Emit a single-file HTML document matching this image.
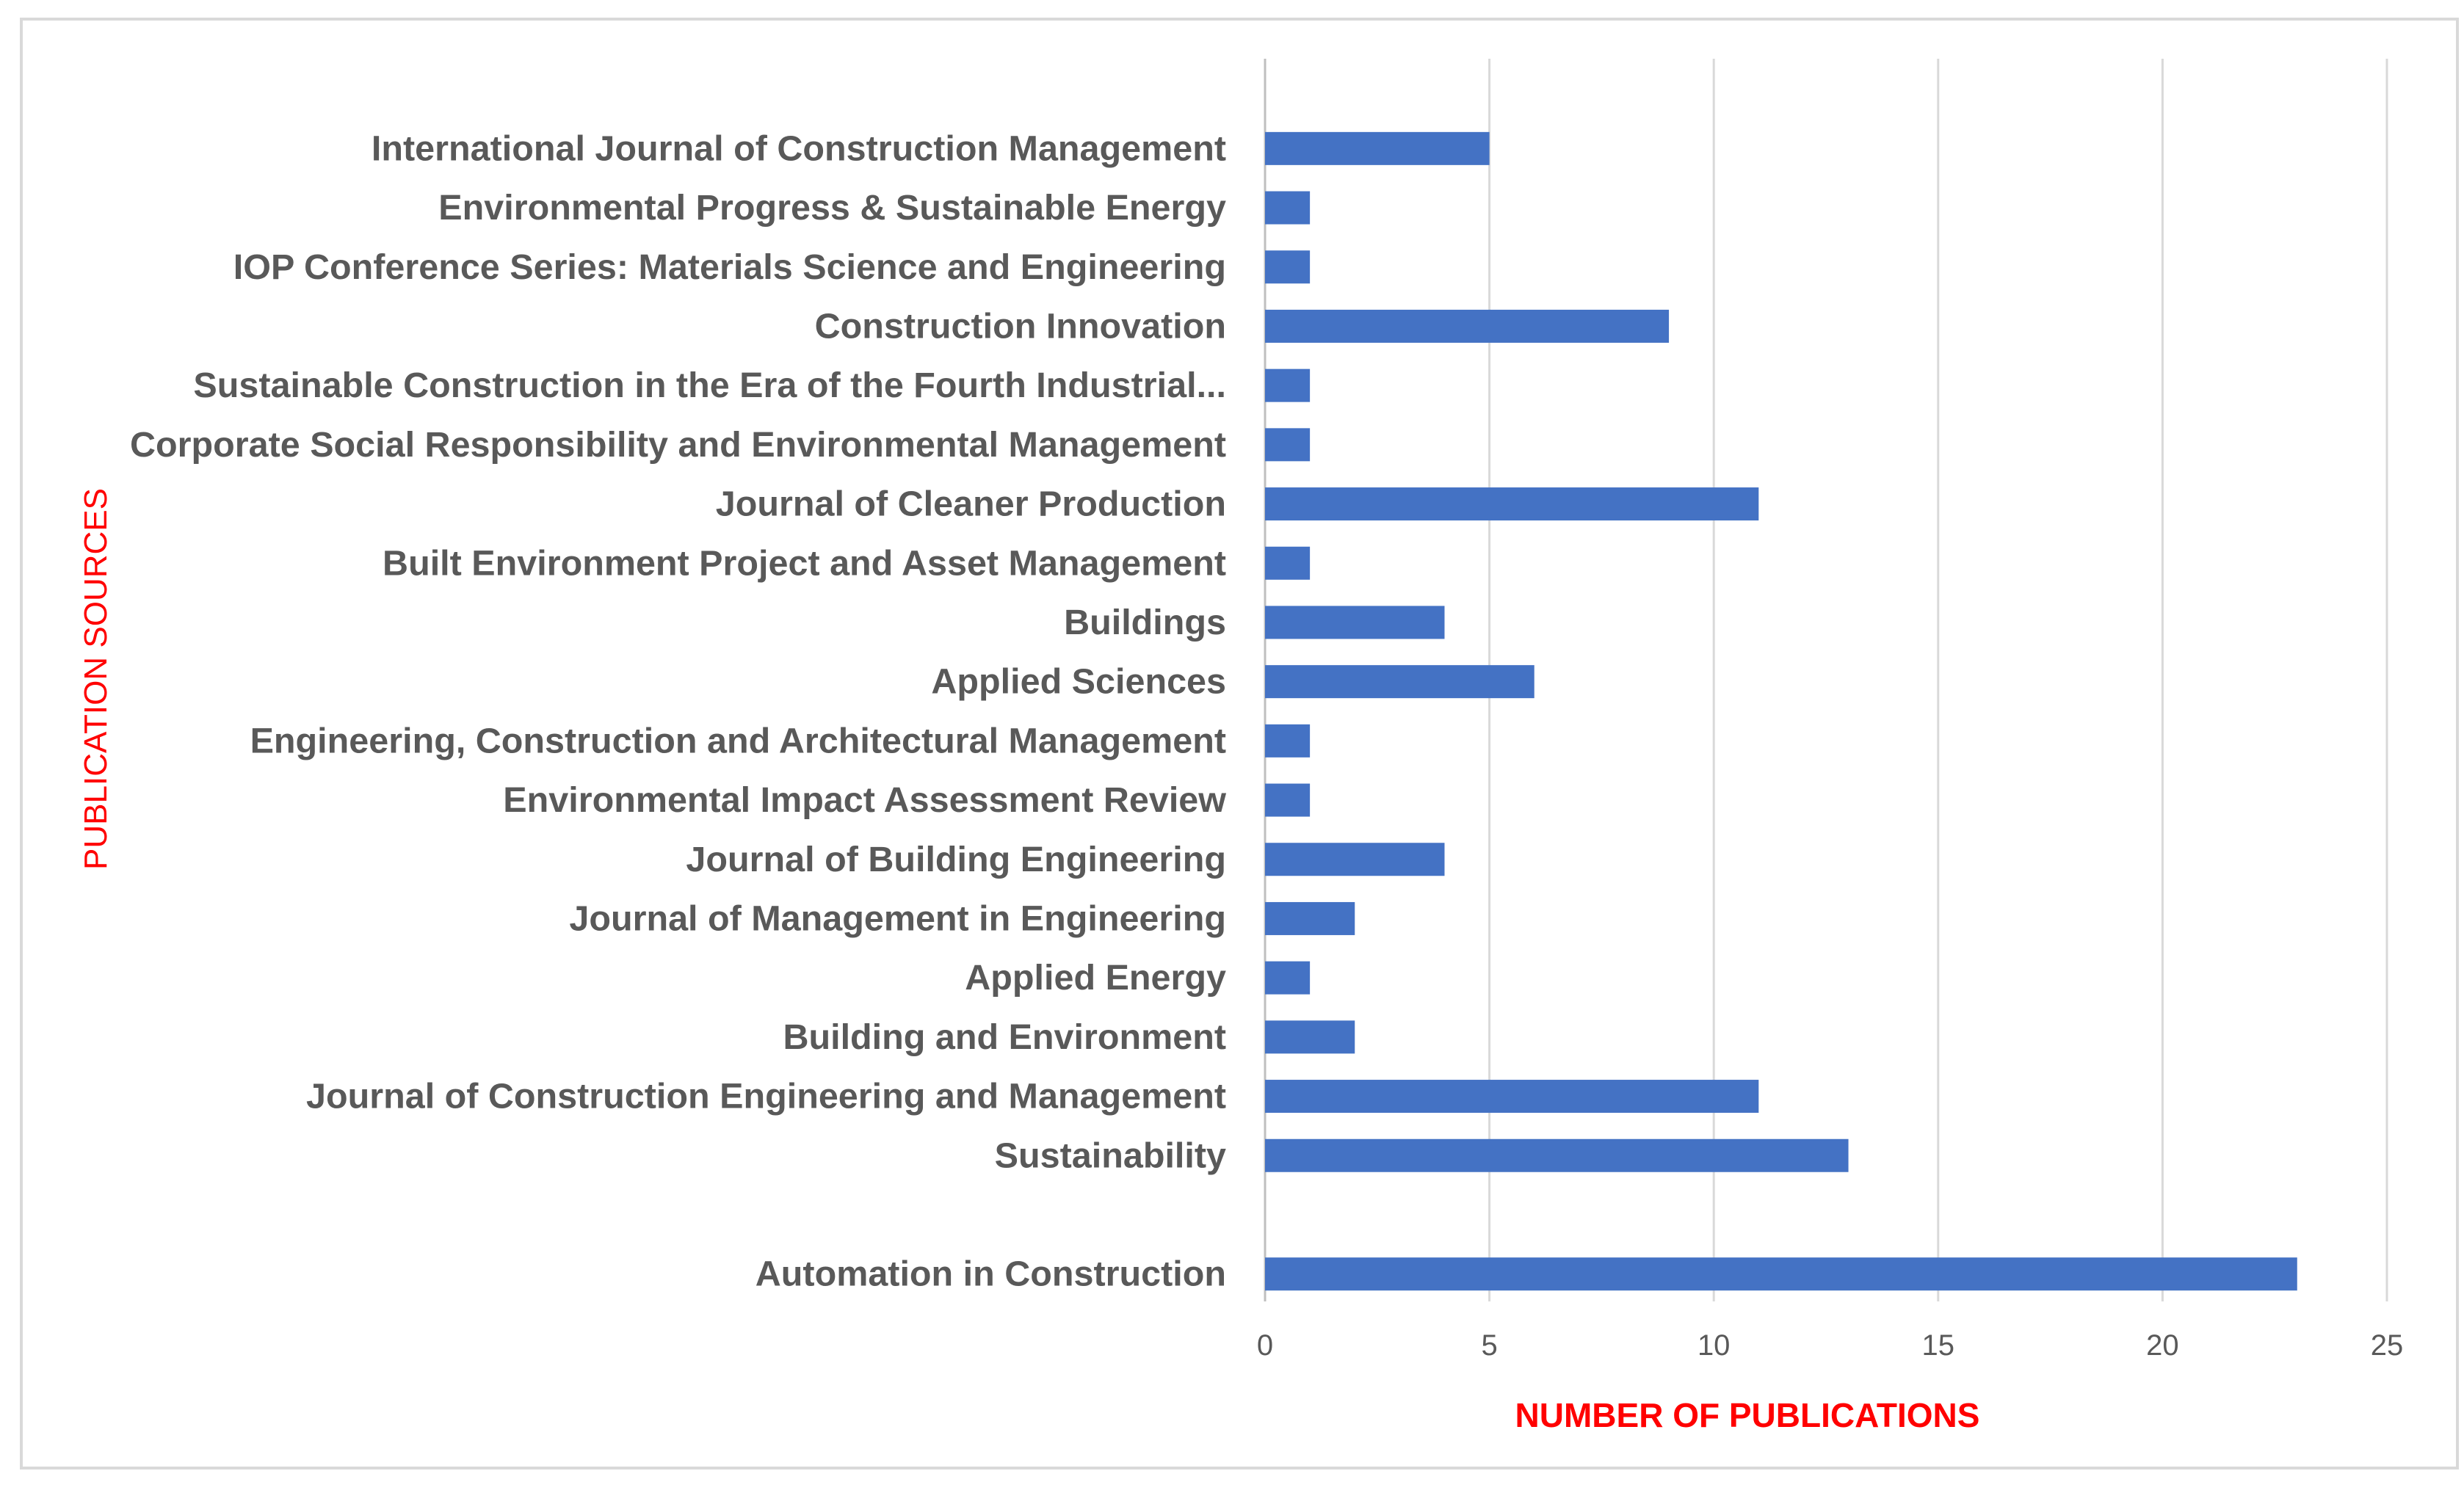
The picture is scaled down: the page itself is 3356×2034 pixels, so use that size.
<!DOCTYPE html>
<html><head><meta charset="utf-8"><style>
html,body{margin:0;padding:0;background:#fff;}
svg{display:block;font-family:"Liberation Sans",sans-serif;}
</style></head><body>
<svg id="chart" width="3356" height="2034" viewBox="0 0 3356 2034">
<rect x="29" y="26" width="3318" height="1974" fill="#fff" stroke="#d9d9d9" stroke-width="4"/>
<g id="grid"></g>
<g id="bars"></g>
<g id="labels"></g>
<g id="ticks"></g>
<text x="2380" y="1944" text-anchor="middle" font-size="46" font-weight="bold" fill="#ff0000">NUMBER OF PUBLICATIONS</text>
<text transform="translate(145,925) rotate(-90)" text-anchor="middle" font-size="44" fill="#ff0000">PUBLICATION SOURCES</text>
</svg>
<script>
const categories = ["International Journal of Construction Management","Environmental Progress & Sustainable Energy","IOP Conference Series: Materials Science and Engineering","Construction Innovation","Sustainable Construction in the Era of the Fourth Industrial...","Corporate Social Responsibility and Environmental Management","Journal of Cleaner Production","Built Environment Project and Asset Management","Buildings","Applied Sciences","Engineering, Construction and Architectural Management","Environmental Impact Assessment Review","Journal of Building Engineering","Journal of Management in Engineering","Applied Energy","Building and Environment","Journal of Construction Engineering and Management","Sustainability","","Automation in Construction"];
const values = [5,1,1,9,1,1,11,1,4,6,1,1,4,2,1,2,11,13,null,23];
const ticks = [0,5,10,15,20,25];
const NS="http://www.w3.org/2000/svg";
const x0=1723, x1=3251, xmax=25;
const xs=v=>x0+(v/xmax)*(x1-x0);
const rowTop=162, rowH=80.7;
const yc=i=>rowTop+rowH*(i+0.5);
function mk(tag,attrs,parent){const e=document.createElementNS(NS,tag);for(const k in attrs)e.setAttribute(k,attrs[k]);document.getElementById(parent).appendChild(e);return e;}
ticks.forEach(t=>{
  const l=mk('line',{x1:xs(t),x2:xs(t),y1:80,y2:1773,stroke:t===0?'#bfbfbf':'#d9d9d9','stroke-width':3},'grid');
  
  
  const tx=mk('text',{x:xs(t),y:1846,'text-anchor':'middle','font-size':40,fill:'#595959'},'ticks');
  tx.textContent=t;
  
  
});
categories.forEach((c,i)=>{
  if(values[i]!=null){
    const r=mk('rect',{x:xs(0),y:yc(i)-22.5,width:xs(values[i])-xs(0),height:45,fill:'#4472c4'},'bars');
    
    
  }
  if(c){
    const t=mk('text',{x:1670,y:yc(i)+16,'text-anchor':'end','font-size':48.5,'font-weight':'bold',fill:'#595959'},'labels');
    t.textContent=c;
    
    
  }
});
</script>
</body></html>
